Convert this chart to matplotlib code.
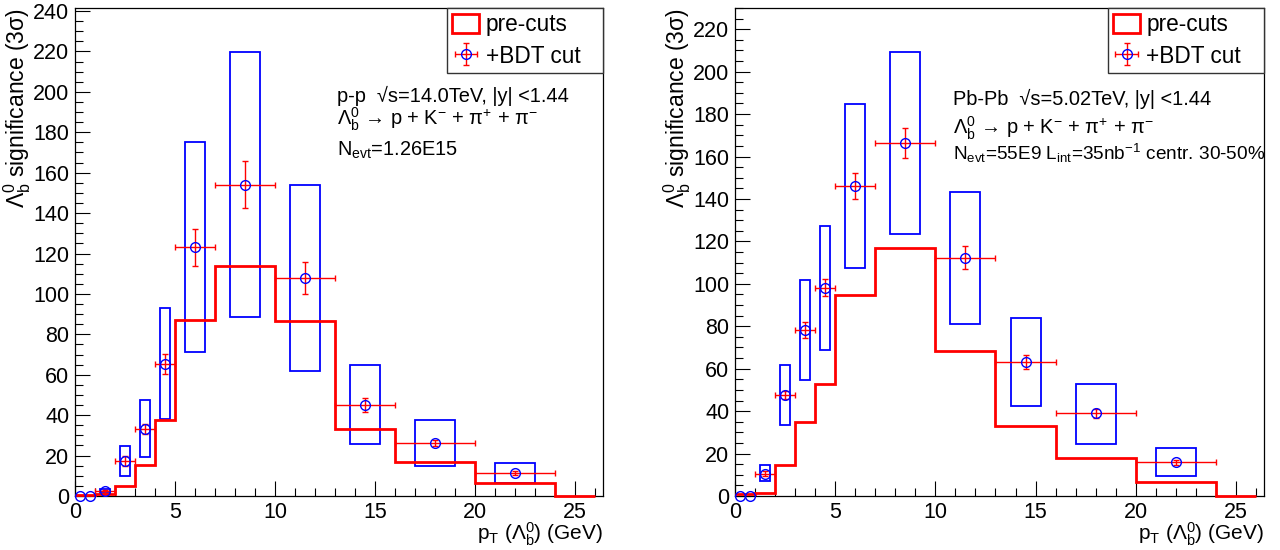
import numpy as np
import matplotlib
matplotlib.use("Agg")
import matplotlib.pyplot as plt
from matplotlib.patches import Rectangle, Patch
from matplotlib.ticker import MultipleLocator

plt.rcParams['font.family'] = ['Liberation Sans', 'DejaVu Sans']
plt.rcParams['mathtext.fontset'] = 'custom'
plt.rcParams['mathtext.rm'] = 'Liberation Sans'
plt.rcParams['mathtext.it'] = 'Liberation Sans:italic'
plt.rcParams['mathtext.default'] = 'regular'

# ---------------- data ----------------
hist_edges = [0, 1, 2, 3, 4, 5, 7, 10, 13, 16, 20, 24, 26]
pp_precut = [0.3, 1.2, 5.0, 15.1, 37.7, 87.0, 114.0, 86.7, 33.2, 17.0, 6.4, 0.0]
pbpb_precut = [1.0, 1.5, 14.8, 34.9, 52.6, 94.7, 116.9, 68.4, 33.1, 18.0, 6.5, 0.0]

pt_center = [0.25, 0.75, 1.5, 2.5, 3.5, 4.5, 6.0, 8.5, 11.5, 14.5, 18.0, 22.0]
pt_halfwidth = [0.0, 0.0, 0.5, 0.5, 0.5, 0.5, 1.0, 1.5, 1.5, 1.5, 2.0, 2.0]

pp_bdt = [0, 0, 2.3, 17.4, 33.2, 65.2, 123.0, 154.1, 107.9, 45.2, 26.2, 11.5]
pp_bdt_err = [0, 0, 0.8, 2.5, 2.5, 4.9, 9.2, 11.5, 8.1, 3.5, 1.5, 1.0]
pp_sys_lo = [0, 0, 1.3, 10.1, 19.1, 37.9, 71.2, 88.8, 62.0, 25.9, 15.0, 6.6]
pp_sys_hi = [0, 0, 3.3, 24.8, 47.4, 92.8, 175.0, 219.6, 154.1, 64.6, 37.5, 16.5]

pbpb_bdt = [0, 0, 10.6, 47.7, 78.3, 98.2, 146.2, 166.4, 112.3, 63.2, 38.9, 15.9]
pbpb_bdt_err = [0, 0, 1.0, 2.0, 3.6, 4.0, 6.0, 7.0, 5.3, 3.4, 2.0, 1.2]
pbpb_sys_lo = [0, 0, 7.2, 33.6, 54.8, 68.9, 107.5, 123.7, 81.3, 42.2, 24.7, 9.3]
pbpb_sys_hi = [0, 0, 14.4, 61.8, 102.0, 127.3, 184.8, 209.1, 143.5, 84.1, 53.0, 22.4]

x_max = 26.4
pp_ymax = 241.5
pbpb_ymax = 230.0

pp_text = ["p-p  √s=14.0TeV, |y| <1.44",
           r"$\Lambda_{b}^{0}$ → p + K$^{-}$ + π$^{+}$ + π$^{-}$",
           r"N$_{evt}$=1.26E15"]
pbpb_text = ["Pb-Pb  √s=5.02TeV, |y| <1.44",
             r"$\Lambda_{b}^{0}$ → p + K$^{-}$ + π$^{+}$ + π$^{-}$",
             r"N$_{evt}$=55E9 L$_{int}$=35nb$^{-1}$ centr. 30-50%"]

legend_labels = ["pre-cuts", "+BDT cut"]
ylabel = r"$\Lambda_{b}^{0}$ significance (3σ)"
xlabel = r"p$_{T}$ ($\Lambda_{b}^{0}$) (GeV)"

RED = (1, 0, 0)
BLUE = (0, 0, 1)

fig = plt.figure(figsize=(12.8, 5.5), dpi=100)
W, H = 1280.0, 550.0
ax1 = fig.add_axes([75 / W, 54 / H, 528 / W, 488 / H])
ax2 = fig.add_axes([735 / W, 54 / H, 529 / W, 488 / H])


def draw(ax, precut, bdt, err, lo, hi, ymax, texts, text_x, text_y, text_fs):
    x = np.array(pt_center)
    xe = np.array(pt_halfwidth)
    y = np.array(bdt, dtype=float)
    ye = np.array(err, dtype=float)
    lo = np.array(lo, dtype=float)
    hi = np.array(hi, dtype=float)
    valid = ye > 0

    # systematic boxes
    for xi, xei, l, h in zip(x[valid], xe[valid], lo[valid], hi[valid]):
        ax.add_patch(Rectangle((xi - xei / 2, l), xei, h - l, fill=False,
                               edgecolor=BLUE, lw=1.3, zorder=2))
    # pre-cut histogram
    ax.stairs(precut, hist_edges, baseline=None, color=RED, lw=2.0,
              zorder=3, clip_on=False)
    # BDT points
    eb = ax.errorbar(x[valid], y[valid], xerr=xe[valid], yerr=ye[valid],
                     fmt='o', mfc='none', mec=BLUE, ms=7, mew=1.0,
                     ecolor=RED, elinewidth=1.0, capsize=2, capthick=1.0,
                     zorder=4)
    ax.plot(x[~valid], y[~valid], 'o', mfc='none', mec=BLUE, ms=7,
            mew=1.0, zorder=4, clip_on=False)

    ax.set_xlim(0, x_max)
    ax.set_ylim(0, ymax)
    ax.xaxis.set_major_locator(MultipleLocator(5))
    ax.xaxis.set_minor_locator(MultipleLocator(1))
    ax.yaxis.set_major_locator(MultipleLocator(20))
    ax.yaxis.set_minor_locator(MultipleLocator(5))
    ax.tick_params(which='both', direction='in', top=False, right=False,
                   labelsize=15.5, width=0.8, color='black')
    ax.tick_params(which='major', length=11, pad=4)
    ax.tick_params(which='minor', length=5.5)
    for s in ax.spines.values():
        s.set_linewidth(0.9)

    ax.set_ylabel(ylabel, fontsize=16.5, loc='top')
    ax.yaxis.set_label_coords(-0.08, 1.0)
    ax.set_xlabel(xlabel, fontsize=15, loc='right')
    ax.xaxis.set_label_coords(1.0, -0.05)

    for t, ty, fs in zip(texts, text_y, text_fs):
        ax.text(text_x, ty, t, fontsize=fs, va='baseline', ha='left',
                zorder=5)

    handles = [Patch(facecolor='none', edgecolor=RED, lw=2.0), eb]
    leg = ax.legend(handles, legend_labels, loc='upper left',
                    bbox_to_anchor=(0.7045, 0.0, 0.2955, 1.0), mode='expand',
                    borderaxespad=0, fontsize=16.3, handlelength=1.19,
                    handleheight=0.93, handletextpad=0.28, borderpad=0.24,
                    labelspacing=0.37, fancybox=False, framealpha=1,
                    edgecolor='#333333')
    leg.get_frame().set_linewidth(1.0)
    leg.set_zorder(6)


draw(ax1, pp_precut, pp_bdt, pp_bdt_err, pp_sys_lo, pp_sys_hi, pp_ymax,
     pp_text, 13.1, [195.1, 183.6, 168.6], [14.4, 14.4, 14.4])
draw(ax2, pbpb_precut, pbpb_bdt, pbpb_bdt_err, pbpb_sys_lo, pbpb_sys_hi,
     pbpb_ymax, pbpb_text, 10.86, [184.2, 170.5, 158.3], [14.4, 14.4, 13.7])

fig.savefig("out.png", dpi=100, facecolor='white')
